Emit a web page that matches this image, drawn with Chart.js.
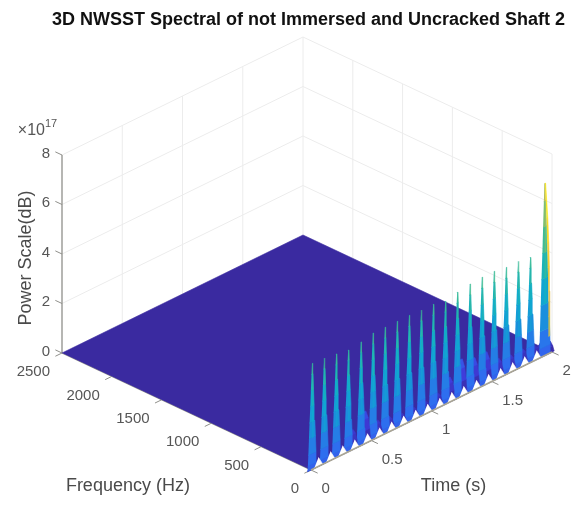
<!DOCTYPE html>
<html>
<head>
<meta charset="utf-8">
<script src="https://cdn.jsdelivr.net/npm/chart.js@4"></script>
<style>
  html, body { margin: 0; padding: 0; background: #fff; }
  #wrap { position: relative; width: 577px; height: 517px; }
  canvas { filter: blur(0.5px); }
</style>
</head>
<body>
<div id="wrap"><canvas id="c"></canvas></div>
<script>
const titleText = '3D NWSST Spectral of not Immersed and Uncracked Shaft 2';
const timeTicks = [0, 0.5, 1, 1.5, 2];
const freqTicks = [0, 500, 1000, 1500, 2000, 2500];
const powerTicks = [0, 2, 4, 6, 8];

// one ridge per shaft revolution (power in 1e17)
const spikeTimes = [0.01, 0.11, 0.21, 0.31, 0.415, 0.515, 0.615, 0.715, 0.815, 0.915,
  1.015, 1.115, 1.215, 1.32, 1.42, 1.52, 1.62, 1.72, 1.82, 1.94];
const spikePeaks = [4.28, 4.25, 4.18, 4.1, 4.18, 4.3, 4.3, 4.3, 4.3, 4.27,
  4.27, 4.15, 4.28, 4.36, 4.4, 4.4, 4.32, 4.32, 4.24, 6.95];
const humpPeaks = [0.3, 0.3, 0.4, 0.8, 1.3, 0.7, 0.6, 0.5, 0.5, 0.5,
  0.6, 1.0, 1.5, 1.3, 1.3, 0.8, 0.7, 0.7, 0.6, 0.6];

// spike outline: fraction of the peak, half width in seconds
const bodyLevels = [0, 0.05, 0.15, 0.3, 0.45, 0.6, 0.75, 0.9, 1];
const bodyWidths = [0.04, 0.036, 0.032, 0.027, 0.022, 0.016, 0.011, 0.006, 0.002];
const humpLevels = [0, 0.4, 0.75, 1];
const humpWidths = [0.06, 0.052, 0.04, 0.02];

// thin bright edge on the right of the last ridge
const stripeLevels = [0.7, 1.5, 2.5, 3.5, 4.5, 5.5, 6.95];
const stripeLeft = [1.97, 1.97, 1.97, 1.965, 1.96, 1.955, 1.943];
const stripeRight = [1.982, 1.982, 1.982, 1.978, 1.973, 1.965, 1.947];

const parula = ['#3a2aa0', '#3f3cdc', '#2f6cf0', '#1a90dc', '#10aad0', '#22b8aa',
  '#5cc080', '#a6bf62', '#e0bb48', '#fccf2c', '#f9fb0e'];
const powerMax = 7;

function parulaAt(v) {
  const p = Math.max(0, Math.min(0.9999, v)) * (parula.length - 1);
  const i = Math.floor(p), k = p - i;
  const hex = s => [1, 3, 5].map(n => parseInt(s.substr(n, 2), 16));
  const a = hex(parula[i]), b = hex(parula[i + 1]);
  return `rgb(${a.map((c, n) => Math.round(c + (b[n] - c) * k)).join(',')})`;
}

// fixed MATLAB-like view: time runs up-right, frequency up-left, power straight up
function project(t, f, z) {
  return {
    x: 311 + t * 120.5 - f * 0.0996,
    y: 470 - t * 59 - f * 0.0468 - z * 24.75,
  };
}

const datasets = [];

function addLine(pts, color, width) {
  datasets.push({
    data: pts.map(p => project(p[0], p[1], p[2])),
    borderColor: color, borderWidth: width, fill: false,
  });
}
function addFace(pts, color) {
  datasets.push({
    data: pts.map(p => project(p[0], p[1], p[2])),
    borderColor: color, borderWidth: 0.6, backgroundColor: color, fill: 'shape',
  });
}

// back walls
const gridColor = '#ececec';
powerTicks.slice(1).forEach(z => {
  addLine([[0, 2500, z], [2, 2500, z], [2, 0, z]], gridColor, 1);
});
timeTicks.slice(1).forEach(t => addLine([[t, 2500, 0], [t, 2500, 8]], gridColor, 1));
freqTicks.slice(0, 5).forEach(f => addLine([[2, f, 0], [2, f, 8]], gridColor, 1));

// axes and ticks
const axisColor = '#8f8f8a';
addLine([[0, 2500, 0], [0, 2500, 8]], axisColor, 1.3);
addLine([[0, 2500, 0], [0, 0, 0]], axisColor, 1.3);
powerTicks.forEach(z => addLine([[0, 2500, z], [0, 2567, z]], axisColor, 1));
freqTicks.forEach(f => addLine([[0, f, 0], [-0.055, f, 0]], axisColor, 1));
timeTicks.forEach(t => addLine([[t, 0, 0], [t, -67, 0]], axisColor, 1));

// the flat floor of the spectrum
addFace([[0, 0, 0], [2, 0, 0], [2, 2500, 0], [0, 2500, 0]], parula[0]);

// the ridges are already blue at the foot, the low humps behind them stay darker
const bodyShade = z => 0.18 + 0.085 * z;
const humpShade = z => z / powerMax * 0.8;

function addSpike(t0, peak, levels, widths, scale, shade) {
  for (let k = 0; k < levels.length - 1; k++) {
    const a = levels[k] * peak, b = levels[k + 1] * peak;
    const wa = widths[k] * scale, wb = widths[k + 1] * scale;
    addFace([[t0 - wa, 0, a], [t0 + wa, 0, a], [t0 + wb, 0, b], [t0 - wb, 0, b]],
      parulaAt(shade((a + b) / 2)));
  }
}

// far ridges first so the nearer ones paint over them
for (let i = spikeTimes.length - 1; i >= 0; i--) {
  const t0 = spikeTimes[i];
  addSpike(t0 + (i === 19 ? -0.012 : 0.02), humpPeaks[i], humpLevels, humpWidths, i === 19 ? 1.5 : 1, humpShade);
  addSpike(t0, spikePeaks[i], bodyLevels, bodyWidths, i === 19 ? 1.25 : 1, z => bodyShade(z) * 0.95);
  addSpike(t0 + 0.004, spikePeaks[i], bodyLevels.slice(3), bodyWidths.slice(3), 0.3, z => bodyShade(z) * 1.08);
}
for (let k = 0; k < stripeLevels.length - 1; k++) {
  addFace([[stripeLeft[k], 0, stripeLevels[k]], [stripeRight[k], 0, stripeLevels[k]],
    [stripeRight[k + 1], 0, stripeLevels[k + 1]], [stripeLeft[k + 1], 0, stripeLevels[k + 1]]],
    parulaAt(0.76 + k * 0.04));
}
// bare wedges left between two ridges at the front edge
spikeTimes.slice(0, -1).forEach(t0 => {
  addFace([[t0 + 0.016, 0, 0], [t0 + 0.088, 0, 0], [t0 + 0.052, 0, 0.36]], '#ffffff');
});
// front axis goes over the feet of the ridges
addLine([[0, 0, 0], [2, 0, 0]], '#a9a594', 1.8);

const sceneText = {
  id: 'scene-text',
  afterDatasetsDraw(chart) {
    const { ctx, scales } = chart;
    const at = (t, f, z) => {
      const p = project(t, f, z);
      return { x: scales.x.getPixelForValue(p.x), y: scales.y.getPixelForValue(p.y) };
    };
    const put = (text, x, y, align, font, color) => {
      ctx.font = font;
      ctx.textAlign = align;
      ctx.textBaseline = 'middle';
      ctx.fillStyle = color;
      ctx.fillText(text, x, y);
    };
    const tickFont = '15px "Liberation Sans", Arial, sans-serif';
    const labelFont = '18px "Liberation Sans", Arial, sans-serif';
    const tickCol = '#565656', labelCol = '#4a4a4a';
    ctx.save();
    powerTicks.forEach(z => {
      const p = at(0, 2500, z);
      put(String(z), p.x - 12, p.y - 1.5, 'right', tickFont, tickCol);
    });
    freqTicks.forEach(f => {
      const p = at(0, f, 0);
      put(String(f), p.x - 12, p.y + 19, 'right', tickFont, tickCol);
    });
    timeTicks.forEach(t => {
      const p = at(t, 0, 0);
      put(String(t), p.x + 10.5, p.y + 19, 'left', tickFont, tickCol);
    });
    const top = at(0, 2500, 8);
    put('×10', top.x - 17, top.y - 24, 'right', '16px "Liberation Sans", Arial, sans-serif', tickCol);
    put('17', top.x - 17, top.y - 31, 'left', '11px "Liberation Sans", Arial, sans-serif', tickCol);
    const fl = at(0, 1000, 0);
    put('Frequency (Hz)', fl.x - 83.5, fl.y + 63, 'center', labelFont, labelCol);
    const tl = at(1, 0, 0);
    put('Time (s)', tl.x + 22, tl.y + 75, 'center', labelFont, labelCol);
    const zl = at(0, 2500, 4);
    ctx.translate(zl.x - 36, zl.y + 4);
    ctx.rotate(-Math.PI / 2);
    put('Power Scale(dB)', 0, 0, 'center', labelFont, labelCol);
    ctx.restore();
  },
};

new Chart(document.getElementById('c'), {
  type: 'scatter',
  data: { datasets: datasets.slice().reverse() },
  options: {
    responsive: true,
    maintainAspectRatio: false,
    animation: false,
    events: [],
    // left padding only nudges the centred title over the plot; x.min follows it
    layout: { padding: { left: 40 } },
    elements: { point: { radius: 0 }, line: { tension: 0 } },
    datasets: { scatter: { showLine: true, clip: false, pointRadius: 0 } },
    scales: {
      x: { type: 'linear', min: 40, max: 577, display: false },
      y: { type: 'linear', min: 32, max: 517, reverse: true, display: false },
    },
    plugins: {
      legend: { display: false },
      tooltip: { enabled: false },
      title: {
        display: true,
        text: titleText,
        color: '#111',
        font: { family: '"Liberation Sans", Arial, sans-serif', size: 18, weight: 'bold' },
        padding: { top: 9, bottom: 1.4 },
      },
    },
  },
  plugins: [sceneText],
});
</script>
</body>
</html>
